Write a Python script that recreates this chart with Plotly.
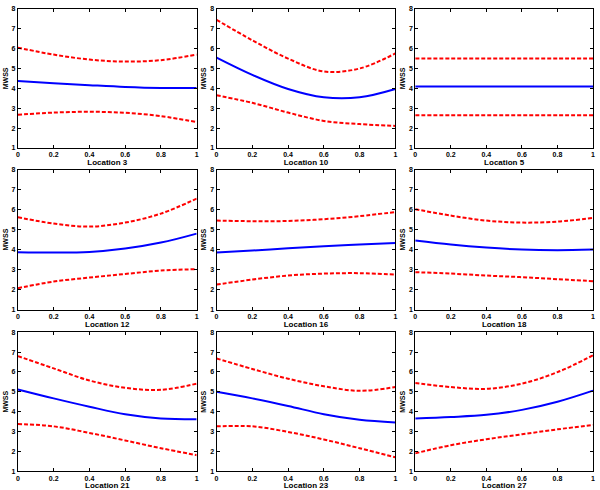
import plotly.graph_objects as go

# sample positions along each location's axis
x_pts = [0, 0.2, 0.4, 0.6, 0.8, 1.0]

locations = ["Location 3", "Location 10", "Location 5",
             "Location 12", "Location 16", "Location 18",
             "Location 21", "Location 23", "Location 27"]

mean_vals = [
    [4.37, 4.26, 4.16, 4.07, 4.02, 4.02],
    [5.55, 4.68, 3.97, 3.55, 3.55, 3.97],
    [4.09, 4.09, 4.09, 4.09, 4.09, 4.09],
    [3.87, 3.85, 3.88, 4.05, 4.35, 4.80],
    [3.85, 3.95, 4.07, 4.17, 4.25, 4.33],
    [4.45, 4.25, 4.10, 4.00, 3.97, 4.00],
    [5.12, 4.67, 4.25, 3.87, 3.66, 3.62],
    [5.00, 4.67, 4.29, 3.87, 3.59, 3.46],
    [3.66, 3.73, 3.84, 4.09, 4.50, 5.06],
]

upper_vals = [
    [6.05, 5.70, 5.45, 5.35, 5.42, 5.70],
    [7.45, 6.42, 5.50, 4.85, 5.00, 5.76],
    [5.50, 5.50, 5.50, 5.50, 5.50, 5.50],
    [5.62, 5.30, 5.15, 5.35, 5.80, 6.55],
    [5.45, 5.42, 5.43, 5.52, 5.67, 5.88],
    [6.02, 5.70, 5.45, 5.35, 5.40, 5.58],
    [6.80, 6.18, 5.57, 5.20, 5.10, 5.41],
    [6.68, 6.15, 5.66, 5.28, 5.05, 5.24],
    [5.44, 5.24, 5.15, 5.41, 5.99, 6.84],
]

lower_vals = [
    [2.67, 2.78, 2.82, 2.77, 2.60, 2.30],
    [3.65, 3.27, 2.78, 2.36, 2.20, 2.11],
    [2.64, 2.64, 2.64, 2.64, 2.64, 2.64],
    [2.07, 2.40, 2.60, 2.78, 2.95, 3.02],
    [2.25, 2.50, 2.70, 2.80, 2.82, 2.75],
    [2.87, 2.80, 2.70, 2.62, 2.52, 2.42],
    [3.38, 3.26, 2.93, 2.55, 2.16, 1.81],
    [3.26, 3.26, 2.98, 2.60, 2.16, 1.70],
    [1.90, 2.31, 2.61, 2.86, 3.11, 3.33],
]

x_ticks = [0, 0.2, 0.4, 0.6, 0.8, 1]
y_ticks = [1, 2, 3, 4, 5, 6, 7, 8]

W, H = 600, 490
col_px = [(16, 196), (216, 396), (416, 595)]
row_px = [(5, 146), (168, 310), (333, 474)]

tick_font = dict(family="Liberation Sans", size=7, color="black", weight=700)

fig = go.Figure()
layout = {}
for i, name in enumerate(locations):
    r, c = divmod(i, 3)
    n = "" if i == 0 else str(i + 1)
    xa, ya = "x" + n, "y" + n

    fig.add_trace(go.Scatter(
        x=x_pts, y=upper_vals[i], mode="lines", line_shape="spline",
        line=dict(color="#ff0000", width=2, dash="4px,2px"),
        xaxis=xa, yaxis=ya, showlegend=False, hoverinfo="skip"))
    fig.add_trace(go.Scatter(
        x=x_pts, y=lower_vals[i], mode="lines", line_shape="spline",
        line=dict(color="#ff0000", width=2, dash="4px,2px"),
        xaxis=xa, yaxis=ya, showlegend=False, hoverinfo="skip"))
    fig.add_trace(go.Scatter(
        x=x_pts, y=mean_vals[i], mode="lines", line_shape="spline",
        line=dict(color="#0000ff", width=2),
        xaxis=xa, yaxis=ya, showlegend=False, hoverinfo="skip"))

    x0, x1 = col_px[c]
    y0, y1 = row_px[r]
    common = dict(showline=True, linecolor="black", linewidth=1, mirror="ticks",
                  ticks="inside", ticklen=3, tickcolor="black", showgrid=False,
                  zeroline=False, tickfont=tick_font, ticklabeloverflow="allow")
    layout["xaxis" + n] = dict(
        common, domain=[x0 / W, x1 / W], range=[0, 1], tickvals=x_ticks,
        ticktext=["0", "0.2", "0.4", "0.6", "0.8", "1"], anchor=ya,
        title=dict(text=name, standoff=0,
                   font=dict(family="Liberation Sans", size=8, color="black", weight=700)))
    layout["yaxis" + n] = dict(
        common, domain=[1 - y1 / H, 1 - y0 / H], range=[1, 8], tickvals=y_ticks,
        anchor=xa,
        title=dict(text="MWSS", standoff=2,
                   font=dict(family="Liberation Sans", size=7, color="black", weight=700)))

fig.update_layout(
    width=W, height=H,
    margin=dict(l=0, r=0, t=0, b=0),
    paper_bgcolor="white", plot_bgcolor="white",
    **layout,
)

fig.write_html("out.html", config={"displayModeBar": False},
               post_script="document.body.style.margin='0';")
